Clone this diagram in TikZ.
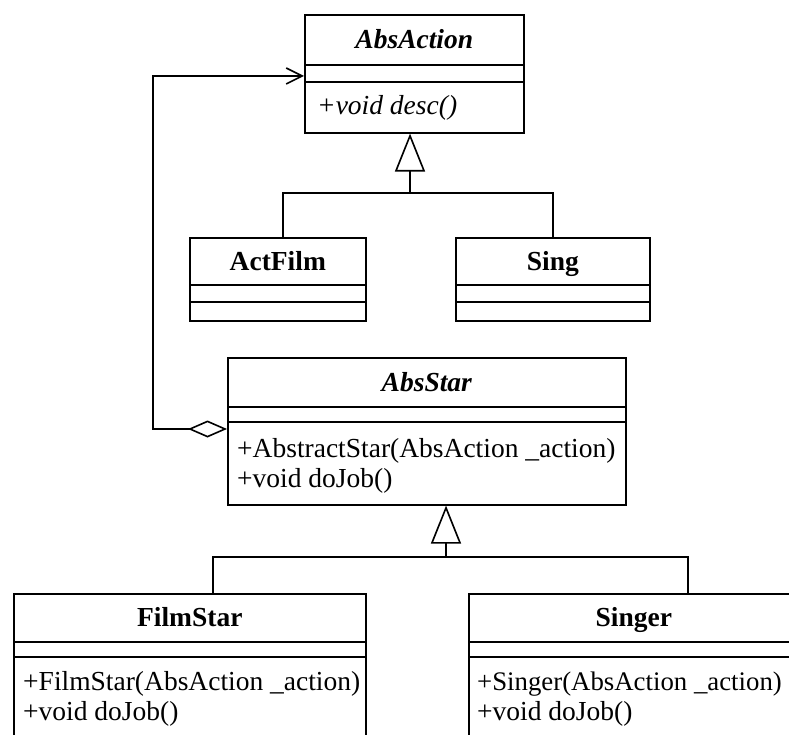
\documentclass[tikz,border=0pt]{standalone}
\usepackage{fontspec}
\setmainfont{Liberation Serif}
\usetikzlibrary{arrows.meta}
\begin{document}
\begin{tikzpicture}[x=1pt,y=-1pt,
  cls/.style={draw, line width=1.6pt, inner sep=0pt, anchor=north west},
  sep/.style={line width=1.6pt},
  txt/.style={font=\fontsize{27.5}{32}\selectfont, inner sep=0pt},
  nametxt/.style={txt, text height=18.2pt, text depth=0pt},
  mtxt/.style={txt, anchor=base west},
  conn/.style={line width=1.6pt},
  inh/.style={conn, -{Triangle[open, length=38pt, width=30pt, line width=1.6pt]}},
  assoc/.style={conn, {Diamond[open, length=39pt, width=17pt, line width=1.6pt]}-{Straight Barb[length=16pt, width=16pt, line width=1.6pt]}}
]
\useasboundingbox (0,0) rectangle (789,735);
\clip (0,0) rectangle (789,735);

% AbsAction
\node[cls, minimum width=219pt, minimum height=118pt] (absaction) at (304,14) {};
\draw[sep] ([yshift=-51pt]absaction.north west) -- ([yshift=-51pt]absaction.north east);
\draw[sep] ([yshift=-68pt]absaction.north west) -- ([yshift=-68pt]absaction.north east);
\node[nametxt, font=\fontsize{27.5}{32}\selectfont\bfseries\itshape] (absactionname) at ([yshift=-25.5pt]absaction.north) {AbsAction};
\node[mtxt, font=\fontsize{27.5}{32}\selectfont\itshape] (absactionop) at (317,115) {+void desc()};

% ActFilm
\node[cls, minimum width=176pt, minimum height=83pt] (actfilm) at (189,237) {};
\draw[sep] ([yshift=-48pt]actfilm.north west) -- ([yshift=-48pt]actfilm.north east);
\draw[sep] ([yshift=-65pt]actfilm.north west) -- ([yshift=-65pt]actfilm.north east);
\node[nametxt, font=\fontsize{27.5}{32}\selectfont\bfseries] (actfilmname) at ([yshift=-24pt]actfilm.north) {ActFilm};

% Sing
\node[cls, minimum width=194pt, minimum height=83pt] (sing) at (455,237) {};
\draw[sep] ([yshift=-48pt]sing.north west) -- ([yshift=-48pt]sing.north east);
\draw[sep] ([yshift=-65pt]sing.north west) -- ([yshift=-65pt]sing.north east);
\node[nametxt, font=\fontsize{27.5}{32}\selectfont\bfseries] (singname) at ([yshift=-24pt]sing.north) {Sing};

% AbsStar
\node[cls, minimum width=398pt, minimum height=147pt] (absstar) at (227,357) {};
\draw[sep] ([yshift=-50pt]absstar.north west) -- ([yshift=-50pt]absstar.north east);
\draw[sep] ([yshift=-65pt]absstar.north west) -- ([yshift=-65pt]absstar.north east);
\node[nametxt, font=\fontsize{27.5}{32}\selectfont\bfseries\itshape] (absstarname) at ([yshift=-25pt]absstar.north) {AbsStar};
\node[mtxt] (absstarop1) at (237,457) {+AbstractStar(AbsAction \_action)};
\node[mtxt] (absstarop2) at (237,487) {+void doJob()};

% FilmStar
\node[cls, minimum width=352pt, minimum height=170pt] (filmstar) at (13,593) {};
\draw[sep] ([yshift=-49pt]filmstar.north west) -- ([yshift=-49pt]filmstar.north east);
\draw[sep] ([yshift=-64pt]filmstar.north west) -- ([yshift=-64pt]filmstar.north east);
\node[nametxt, font=\fontsize{27.5}{32}\selectfont\bfseries] (filmstarname) at ([yshift=-24pt]filmstar.north) {FilmStar};
\node[mtxt] (filmstarop1) at (23,690) {+FilmStar(AbsAction \_action)};
\node[mtxt] (filmstarop2) at (23,720) {+void doJob()};

% Singer
\node[cls, minimum width=330pt, minimum height=170pt] (singer) at (468,593) {};
\draw[sep] ([yshift=-49pt]singer.north west) -- ([yshift=-49pt]singer.north east);
\draw[sep] ([yshift=-64pt]singer.north west) -- ([yshift=-64pt]singer.north east);
\node[nametxt, font=\fontsize{27.5}{32}\selectfont\bfseries] (singername) at ([yshift=-24pt]singer.north) {Singer};
\node[mtxt, font=\fontsize{26.8}{32}\selectfont] (singerop1) at (477,690) {+Singer(AbsAction \_action)};
\node[mtxt] (singerop2) at (477,720) {+void doJob()};

% generalization: ActFilm, Sing -> AbsAction
\coordinate (j1) at (410,193);
\draw[conn] ([xshift=5pt]actfilm.north) |- (j1) -| (sing.north);
\draw[inh] (j1) -- (j1 |- absaction.south);

% generalization: FilmStar, Singer -> AbsStar
\coordinate (j2) at (446,557);
\draw[conn] ([xshift=23pt]filmstar.north) |- (j2) -| ([xshift=54pt]singer.north);
\draw[inh] (j2) -- (j2 |- absstar.south);

% aggregation AbsStar <>-> AbsAction
\coordinate (aggy) at (0,429);
\coordinate (corner) at (153,76);
\draw[assoc] (absstar.west |- aggy) -| (corner) -- (corner -| absaction.west);
\end{tikzpicture}
\end{document}
